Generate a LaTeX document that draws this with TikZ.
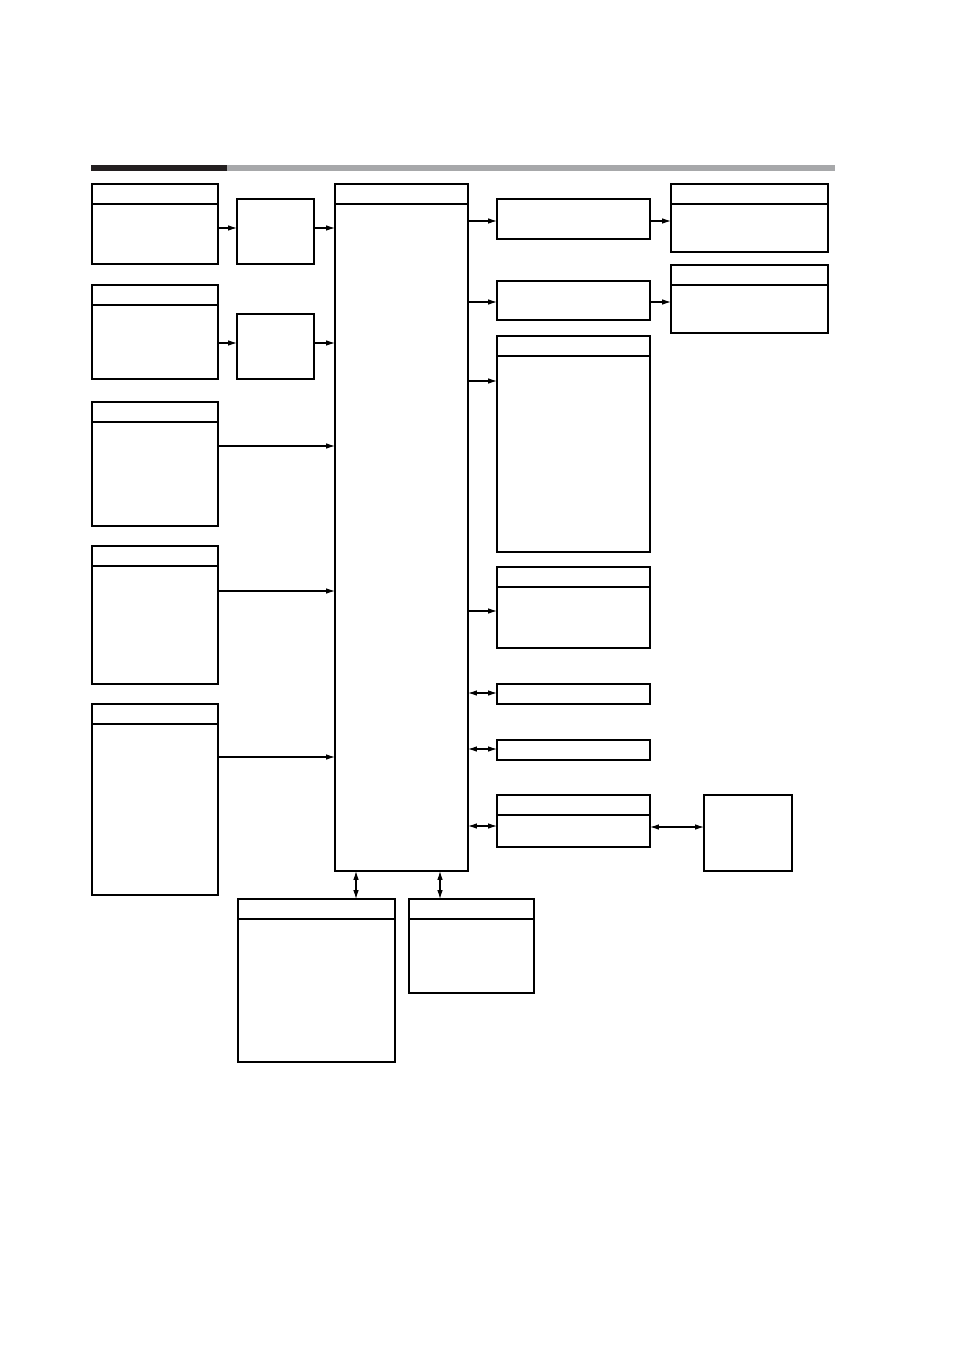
\documentclass[tikz,border=0pt]{standalone}
\usepackage{tikz}
\usetikzlibrary{arrows.meta}

\definecolor{bardark}{RGB}{35,31,32}
\definecolor{bargrey}{RGB}{167,168,170}
\newcommand{\pxu}{0.6237pt}

\begin{document}
\begin{tikzpicture}[x=0.6237pt,y=-0.6237pt,
      >={Latex[length=5.5pt,width=3.4pt]},
      box/.style={rectangle,draw,line width=1.1pt,inner sep=0pt,outer sep=0pt},
      link/.style={->,line width=0.65pt},
      both/.style={<->,line width=0.65pt}]

      \useasboundingbox (0,0) rectangle (954,1351);

      % title bar
      \fill[bardark] (91,165) rectangle (227,171);
      \fill[bargrey] (227,165) rectangle (835,171);

      % left column
      \node[box, minimum width=126*\pxu, minimum height=80*\pxu] (L1) at (155,224) {};
      \node[box, minimum width=126*\pxu, minimum height=94*\pxu] (L2) at (155,332) {};
      \node[box, minimum width=126*\pxu, minimum height=124*\pxu] (L3) at (155,464) {};
      \node[box, minimum width=126*\pxu, minimum height=138*\pxu] (L4) at (155,615) {};
      \node[box, minimum width=126*\pxu, minimum height=191*\pxu] (L5) at (155,799.5) {};
      \node[box, minimum width=77*\pxu, minimum height=65*\pxu] (S1) at (275.5,231.5) {};
      \node[box, minimum width=77*\pxu, minimum height=65*\pxu] (S2) at (275.5,346.5) {};

      % centre
      \node[box, minimum width=133*\pxu, minimum height=687*\pxu] (C) at (401.5,527.5) {};

      % right column
      \node[box, minimum width=153*\pxu, minimum height=40*\pxu] (R1) at (573.5,219) {};
      \node[box, minimum width=153*\pxu, minimum height=39*\pxu] (R2) at (573.5,300.5) {};
      \node[box, minimum width=153*\pxu, minimum height=216*\pxu] (R3) at (573.5,444) {};
      \node[box, minimum width=153*\pxu, minimum height=81*\pxu] (R4) at (573.5,607.5) {};
      \node[box, minimum width=153*\pxu, minimum height=20*\pxu] (R5) at (573.5,694) {};
      \node[box, minimum width=153*\pxu, minimum height=20*\pxu] (R6) at (573.5,750) {};
      \node[box, minimum width=153*\pxu, minimum height=52*\pxu] (R7) at (573.5,821) {};
      \node[box, minimum width=157*\pxu, minimum height=68*\pxu] (F1) at (749.5,218) {};
      \node[box, minimum width=157*\pxu, minimum height=68*\pxu] (F2) at (749.5,299) {};
      \node[box, minimum width=88*\pxu, minimum height=76*\pxu] (F3) at (748,833) {};

      % bottom
      \node[box, minimum width=157*\pxu, minimum height=163*\pxu] (B1) at (316.5,980.5) {};
      \node[box, minimum width=125*\pxu, minimum height=94*\pxu] (B2) at (471.5,946) {};

      % header lines
      \foreach \n in {L1,L2,L3,L4,L5,C,R3,R4,R7,F1,F2,B1,B2}
        \draw[line width=1.1pt] ([yshift=-20*\pxu]\n.north west) -- ([yshift=-20*\pxu]\n.north east);

      % connectors
      \draw[link] (L1.east |- 0,228) -- (S1.west |- 0,228);
      \draw[link] (S1.east |- 0,228) -- (C.west |- 0,228);
      \draw[link] (L2.east |- 0,343) -- (S2.west |- 0,343);
      \draw[link] (S2.east |- 0,343) -- (C.west |- 0,343);
      \draw[link] (L3.east |- 0,446) -- (C.west |- 0,446);
      \draw[link] (L4.east |- 0,591) -- (C.west |- 0,591);
      \draw[link] (L5.east |- 0,757) -- (C.west |- 0,757);

      \draw[link] (C.east |- 0,221) -- (R1.west |- 0,221);
      \draw[link] (C.east |- 0,302) -- (R2.west |- 0,302);
      \draw[link] (C.east |- 0,381) -- (R3.west |- 0,381);
      \draw[link] (C.east |- 0,611) -- (R4.west |- 0,611);
      \draw[both] (C.east |- 0,693) -- (R5.west |- 0,693);
      \draw[both] (C.east |- 0,749) -- (R6.west |- 0,749);
      \draw[both] (C.east |- 0,826) -- (R7.west |- 0,826);
      \draw[link] (R1.east |- 0,221) -- (F1.west |- 0,221);
      \draw[link] (R2.east |- 0,302) -- (F2.west |- 0,302);
      \draw[both] (R7.east |- 0,827) -- (F3.west |- 0,827);

      \draw[both] (C.south -| 356,0) -- (B1.north -| 356,0);
      \draw[both] (C.south -| 440,0) -- (B2.north -| 440,0);
    \end{tikzpicture}
\end{document}
